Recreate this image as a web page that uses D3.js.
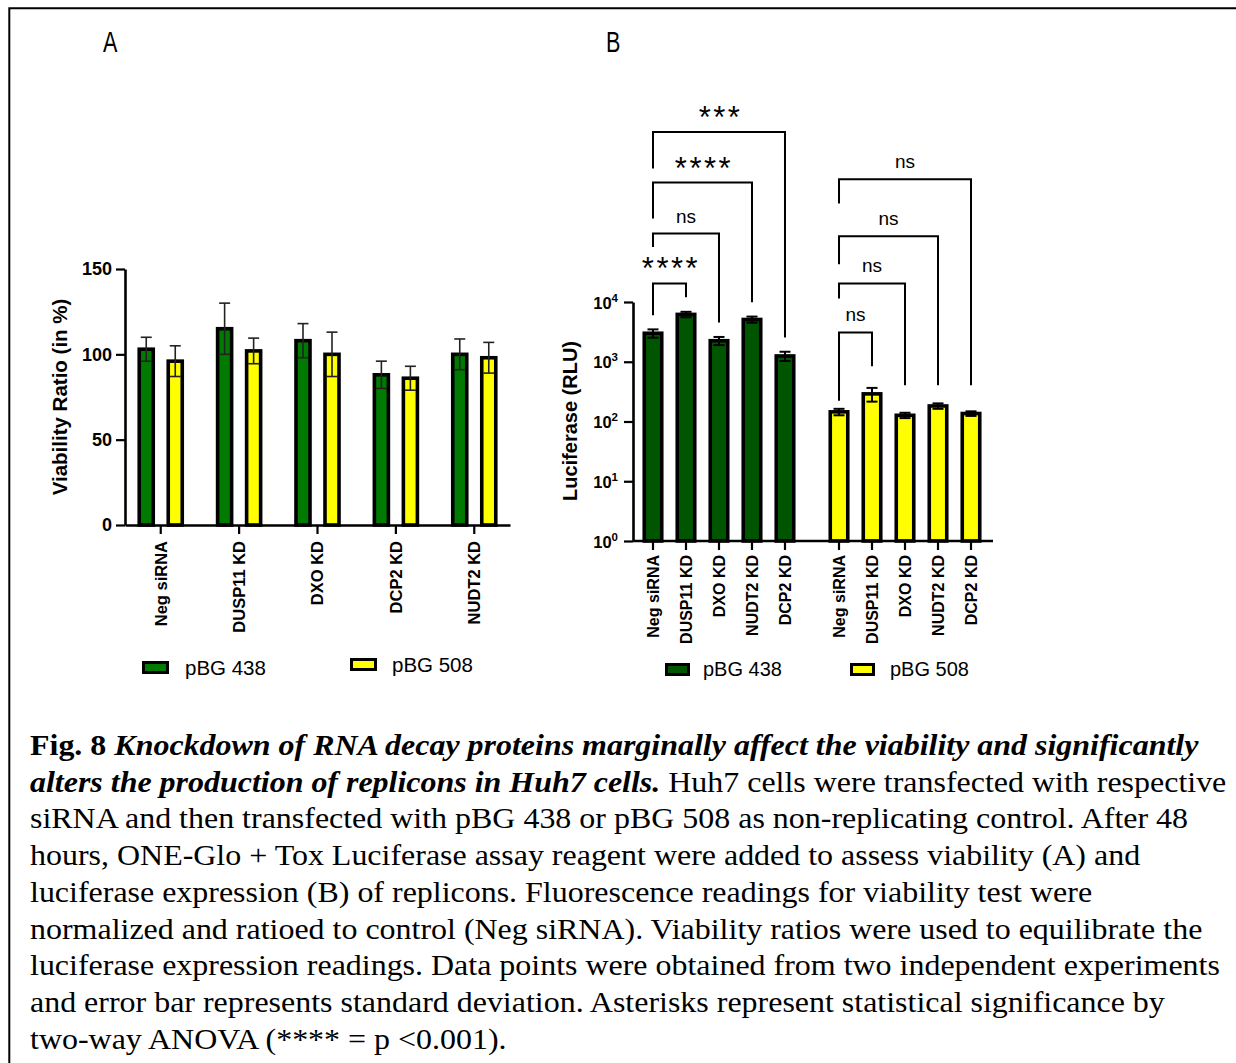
<!DOCTYPE html>
<html>
<head>
<meta charset="utf-8">
<script src="https://cdn.jsdelivr.net/npm/d3@7"></script>
<style>
  body { margin: 0; background: #fff; }
  svg { display: block; }
</style>
</head>
<body>
<div id="chart"></div>
<script>
// ---- data ----
const series = ["pBG 438", "pBG 508"];

// panel A: viability (%)
const catsA = ["Neg siRNA", "DUSP11 KD", "DXO KD", "DCP2 KD", "NUDT2 KD"];
const viab438 = [103, 115, 108, 88, 100];
const viab438Sd = [7, 15, 10, 8, 9];
const viab508 = [96, 102, 100, 86, 98];
const viab508Sd = [9, 7.5, 13, 7, 9];
const yTicksA = [0, 50, 100, 150];

// panel B: luciferase (RLU, log)
const catsB = ["Neg siRNA", "DUSP11 KD", "DXO KD", "NUDT2 KD", "DCP2 KD"];
const luc438 = [3000, 6200, 2250, 5100, 1250];
const luc438Sd = [480, 650, 350, 600, 220];
const luc508 = [145, 290, 127, 182, 136];
const luc508Sd = [18, 75, 13, 19, 12];
const yTicksB = [1, 10, 100, 1000, 10000];

// comparisons against Neg siRNA, bracket levels given in RLU
const compSeries = ["pBG 438", "pBG 438", "pBG 438", "pBG 438", "pBG 508", "pBG 508", "pBG 508", "pBG 508"];
const compTarget = ["DUSP11 KD", "DXO KD", "NUDT2 KD", "DCP2 KD", "DUSP11 KD", "DXO KD", "NUDT2 KD", "DCP2 KD"];
const compLabel = ["****", "ns", "****", "***", "ns", "ns", "ns", "ns"];
const compTop = [20400, 139700, 996000, 6990000, 3090, 20400, 126000, 1130000];
const compLeftEnd = [6020, 83400, 249000, 1710000, 222, 11440, 42800, 444000];
const compRightEnd = [12000, 4540, 9930, 2550, 844, 406, 406, 406];

const captionLines = [
  [["Fig. 8 ", "b"], ["Knockdown of RNA decay proteins marginally affect the viability and significantly", "bi"]],
  [["alters the production of replicons in Huh7 cells.", "bi"], [" Huh7 cells were transfected with respective", "r"]],
  [["siRNA and then transfected with pBG 438 or pBG 508 as non-replicating control. After 48", "r"]],
  [["hours, ONE-Glo + Tox Luciferase assay reagent were added to assess viability (A) and", "r"]],
  [["luciferase expression (B) of replicons. Fluorescence readings for viability test were", "r"]],
  [["normalized and ratioed to control (Neg siRNA). Viability ratios were used to equilibrate the", "r"]],
  [["luciferase expression readings. Data points were obtained from two independent experiments", "r"]],
  [["and error bar represents standard deviation. Asterisks represent statistical significance by", "r"]],
  [["two-way ANOVA (**** = p <0.001).", "r"]]
];

const greenA = "#007a00", greenB = "#005500", yellow = "#ffff00";
const sans = "'Liberation Sans', Arial, Helvetica, sans-serif";

const svg = d3.select("#chart").append("svg")
  .attr("width", 1236)
  .attr("height", 1063)
  .style("font-family", sans);

// frame
svg.append("path")
  .attr("d", "M9.3,1063V8.3H1236")
  .attr("fill", "none")
  .attr("stroke", "#000")
  .attr("stroke-width", 2);

// panel letters
[["A", 103], ["B", 606]].forEach(([t, x]) => {
  svg.append("text")
    .attr("transform", `translate(${x},52) scale(0.72,1)`)
    .style("font-size", "30px")
    .text(t);
});

// ================= Panel A =================
const x0A = d3.scaleBand().domain(catsA).range([125, 510])
  .paddingInner(0.4).paddingOuter(0.156);
const x1A = d3.scaleBand().domain(series).range([0, x0A.bandwidth()])
  .paddingInner(0.517).paddingOuter(0.069);
const yA = d3.scaleLinear().domain([0, 150]).range([525, 269]);

const rowsA = catsA.flatMap((c, i) => [
  { cat: c, s: series[0], v: viab438[i], sd: viab438Sd[i], fill: greenA },
  { cat: c, s: series[1], v: viab508[i], sd: viab508Sd[i], fill: yellow }
]);

const gA = svg.append("g");
gA.selectAll("rect.bar").data(rowsA).join("rect")
  .attr("class", "bar")
  .attr("x", d => x0A(d.cat) + x1A(d.s))
  .attr("y", d => yA(d.v))
  .attr("width", x1A.bandwidth())
  .attr("height", d => yA(0) - yA(d.v))
  .attr("fill", d => d.fill)
  .attr("stroke", "#000")
  .attr("stroke-width", 3.6);

const errA = gA.selectAll("g.err").data(rowsA).join("g")
  .attr("class", "err")
  .attr("transform", d => `translate(${x0A(d.cat) + x1A(d.s) + x1A.bandwidth() / 2},0)`)
  .attr("stroke", "#222")
  .attr("stroke-width", 1.6);
errA.append("line").attr("y1", d => yA(d.v - d.sd)).attr("y2", d => yA(d.v + d.sd));
errA.append("line").attr("x1", -5.5).attr("x2", 5.5).attr("y1", d => yA(d.v + d.sd)).attr("y2", d => yA(d.v + d.sd));
errA.append("line").attr("x1", -5.5).attr("x2", 5.5).attr("y1", d => yA(d.v - d.sd)).attr("y2", d => yA(d.v - d.sd));

const axYA = gA.append("g").attr("transform", "translate(125,0)")
  .call(d3.axisLeft(yA).tickValues(yTicksA).tickSize(9).tickSizeOuter(0).tickPadding(4));
const axXA = gA.append("g").attr("transform", "translate(0,525)")
  .call(d3.axisBottom(x0A).tickSize(9).tickSizeOuter(0));
[axYA, axXA].forEach(ax => {
  ax.select(".domain").attr("stroke-width", 2.6);
  ax.selectAll(".tick line").attr("stroke-width", 2.2);
  ax.selectAll("text").style("font-family", sans).style("font-weight", "bold").attr("fill", "#000");
});
axYA.selectAll("text").style("font-size", "18px");
axXA.selectAll("text")
  .style("font-size", "16.5px")
  .attr("transform", "rotate(-90)")
  .attr("text-anchor", "end")
  .attr("x", -16).attr("y", 0).attr("dy", "0.35em");

svg.append("text")
  .attr("transform", "translate(67,397) rotate(-90)")
  .attr("text-anchor", "middle")
  .style("font-size", "20.5px").style("font-weight", "bold")
  .text("Viability Ratio (in %)");

// legend A
[[series[0], greenA, 143.5, 662.5, 185, 675], [series[1], yellow, 351.5, 659.5, 392, 672]].forEach(([t, c, rx, ry, tx, ty]) => {
  svg.append("rect").attr("x", rx).attr("y", ry).attr("width", 24).attr("height", 10)
    .attr("fill", c).attr("stroke", "#000").attr("stroke-width", 3);
  svg.append("text").attr("x", tx).attr("y", ty).style("font-size", "20.5px").text(t);
});

// ================= Panel B =================
const x0B = d3.scaleBand().domain(series).range([633, 991])
  .paddingInner(0.113).paddingOuter(0.0188);
const x1B = d3.scaleBand().domain(catsB).range([0, x0B.bandwidth()])
  .paddingInner(0.47).paddingOuter(0.235);
const yB = d3.scaleLog().domain([1, 10000]).range([541, 302]);

const rowsB = catsB.flatMap((c, i) => [
  { cat: c, s: series[0], v: luc438[i], sd: luc438Sd[i], fill: greenB },
  { cat: c, s: series[1], v: luc508[i], sd: luc508Sd[i], fill: yellow }
]);
const cx = d => x0B(d.s) + x1B(d.cat) + x1B.bandwidth() / 2;

const gB = svg.append("g");
gB.selectAll("rect.bar").data(rowsB).join("rect")
  .attr("class", "bar")
  .attr("x", d => x0B(d.s) + x1B(d.cat))
  .attr("y", d => yB(d.v))
  .attr("width", x1B.bandwidth())
  .attr("height", d => yB(1) - yB(d.v))
  .attr("fill", d => d.fill)
  .attr("stroke", "#000")
  .attr("stroke-width", 3.6);

const errB = gB.selectAll("g.err").data(rowsB).join("g")
  .attr("class", "err")
  .attr("transform", d => `translate(${cx(d)},0)`)
  .attr("stroke", "#000")
  .attr("stroke-width", 2);
errB.append("line").attr("y1", d => yB(d.v - d.sd)).attr("y2", d => yB(d.v + d.sd));
errB.append("line").attr("x1", -5.5).attr("x2", 5.5).attr("y1", d => yB(d.v + d.sd)).attr("y2", d => yB(d.v + d.sd));
errB.append("line").attr("x1", -5.5).attr("x2", 5.5).attr("y1", d => yB(d.v - d.sd)).attr("y2", d => yB(d.v - d.sd));

const axYB = gB.append("g").attr("transform", "translate(633,0)")
  .call(d3.axisLeft(yB).tickValues(yTicksB).tickFormat(() => "").tickSize(9).tickSizeOuter(0));
axYB.select(".domain").attr("stroke-width", 2.6);
axYB.selectAll(".tick line").attr("stroke-width", 2.2);
axYB.selectAll(".tick").append("text")
  .attr("x", -15).attr("y", 6).attr("text-anchor", "end")
  .attr("fill", "#000")
  .style("font-family", sans).style("font-weight", "bold").style("font-size", "16.5px")
  .each(function (d) {
    const t = d3.select(this);
    t.append("tspan").text("10");
    t.append("tspan").attr("dy", -7).style("font-size", "11.5px").text(Math.round(Math.log10(d)));
  });

gB.append("line").attr("x1", 633).attr("x2", 993).attr("y1", 541).attr("y2", 541)
  .attr("stroke", "#000").attr("stroke-width", 2.6);
series.forEach(s => {
  const ax = gB.append("g").attr("transform", `translate(${x0B(s)},541)`)
    .call(d3.axisBottom(x1B).tickSize(9).tickSizeOuter(0));
  ax.select(".domain").remove();
  ax.selectAll(".tick line").attr("stroke-width", 2.2);
  ax.selectAll("text")
    .style("font-family", sans).style("font-weight", "bold").style("font-size", "16px")
    .attr("fill", "#000")
    .attr("transform", "rotate(-90)")
    .attr("text-anchor", "end")
    .attr("x", -14).attr("y", 0).attr("dy", "0.35em");
});

svg.append("text")
  .attr("transform", "translate(577,421) rotate(-90)")
  .attr("text-anchor", "middle")
  .style("font-size", "20px").style("font-weight", "bold")
  .text("Luciferase (RLU)");

// significance brackets
compLabel.forEach((lab, i) => {
  const s = compSeries[i];
  const xl = x0B(s) + x1B(catsB[0]) + x1B.bandwidth() / 2;
  const xr = x0B(s) + x1B(compTarget[i]) + x1B.bandwidth() / 2;
  const yt = yB(compTop[i]);
  gB.append("path")
    .attr("d", `M${xl},${yB(compLeftEnd[i])}V${yt}H${xr}V${yB(compRightEnd[i])}`)
    .attr("fill", "none").attr("stroke", "#000").attr("stroke-width", 2);
  if (lab === "ns") {
    gB.append("text").attr("x", (xl + xr) / 2).attr("y", yt - 11)
      .attr("text-anchor", "middle").style("font-size", "19px").text(lab);
  } else {
    gB.append("text").attr("x", (xl + xr) / 2 + 1.5).attr("y", yt - 4)
      .attr("text-anchor", "middle").style("font-size", "31px")
      .style("letter-spacing", "2.5px").text(lab);
  }
});

// legend B
[[series[0], greenB, 666.5, 664.5, 703, 676], [series[1], yellow, 851.5, 664.5, 890, 676]].forEach(([t, c, rx, ry, tx, ty]) => {
  svg.append("rect").attr("x", rx).attr("y", ry).attr("width", 22).attr("height", 10)
    .attr("fill", c).attr("stroke", "#000").attr("stroke-width", 3);
  svg.append("text").attr("x", tx).attr("y", ty).style("font-size", "20px").text(t);
});

// ================= Caption =================
// the original caption face is set a little wider than Times, so stretch it
const cap = svg.append("g")
  .attr("transform", "translate(30,0) scale(1.122,1)")
  .style("font-family", "'Liberation Serif', 'Times New Roman', Times, serif")
  .style("font-size", "28.5px");
captionLines.forEach((parts, i) => {
  const t = cap.append("text").attr("x", 0).attr("y", 755 + i * 36.75);
  parts.forEach(([str, st]) => {
    t.append("tspan")
      .style("font-weight", st === "r" ? "normal" : "bold")
      .style("font-style", st === "bi" ? "italic" : "normal")
      .text(str);
  });
});
</script>
</body>
</html>
